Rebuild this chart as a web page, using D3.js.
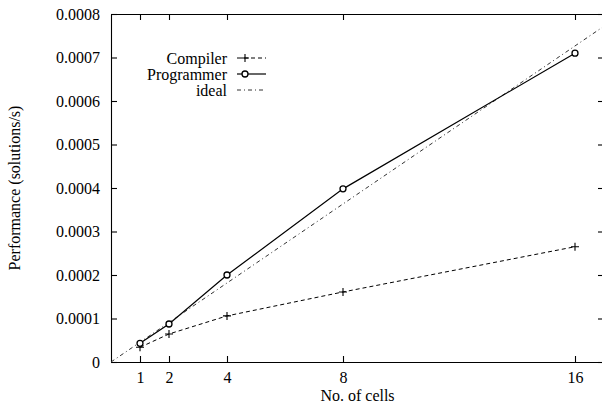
<!DOCTYPE html>
<html>
<head>
<meta charset="utf-8">
<script src="https://cdn.jsdelivr.net/npm/d3@7"></script>
<style>
  body { margin: 0; background: #fff; }
  svg { display: block; }
  text { font-family: "Liberation Serif", "DejaVu Serif", serif; fill: #000; }
</style>
</head>
<body>
<svg id="chart" width="602" height="404"></svg>
<script>
// chart data
const cells = [1, 2, 4, 8, 16];
const compilerPerf = [0.0000338, 0.0000644, 0.000106, 0.000161, 0.000265];
const programmerPerf = [0.000043, 0.0000874, 0.0002, 0.000398, 0.00071];
const idealCells = [0, 17];
const idealPerf = [0, 0.000772];
const xTicks = [1, 2, 4, 8, 16];
const yTicks = [0, 0.0001, 0.0002, 0.0003, 0.0004, 0.0005, 0.0006, 0.0007, 0.0008];
const seriesNames = ["Compiler", "Programmer", "ideal"];

const svg = d3.select("#chart");
const m = {left: 111, top: 14, right: 604, bottom: 362};
const fs = "16px";

const x = d3.scaleLinear().domain([0, 17]).range([m.left, m.right]);
const y = d3.scaleLinear().domain([0, 0.0008]).range([m.bottom, m.top]);

// axes, gnuplot style: ticks pointing inward on all four sides
const yFmt = function(d) { return d === 0 ? "0" : d.toFixed(4); };

const axB = svg.append("g").attr("transform", "translate(0," + m.bottom + ")")
    .call(d3.axisBottom(x).tickValues(xTicks).tickSizeInner(-6).tickSizeOuter(0).tickPadding(10));
const axT = svg.append("g").attr("transform", "translate(0," + m.top + ")")
    .call(d3.axisTop(x).tickValues(xTicks).tickSizeInner(-6).tickSizeOuter(0).tickFormat(""));
const axL = svg.append("g").attr("transform", "translate(" + m.left + ",0)")
    .call(d3.axisLeft(y).tickValues(yTicks).tickSizeInner(-6).tickSizeOuter(0).tickPadding(11).tickFormat(yFmt));
const axR = svg.append("g").attr("transform", "translate(" + m.right + ",0)")
    .call(d3.axisRight(y).tickValues(yTicks).tickSizeInner(-6).tickSizeOuter(0).tickFormat(""));

[axB, axT, axL, axR].forEach(function(a) {
    a.selectAll("path, line").attr("stroke", "#000").attr("stroke-width", 1.1);
    a.selectAll("text").style("font-size", fs).style("font-family", "'Liberation Serif', serif").attr("fill", "#000");
});

// axis titles
svg.append("text")
    .attr("x", (m.left + m.right) / 2).attr("y", 401)
    .attr("text-anchor", "middle").style("font-size", fs)
    .text("No. of cells");

svg.append("text")
    .attr("transform", "translate(20," + ((m.top + m.bottom) / 2) + ") rotate(-90)")
    .attr("text-anchor", "middle").style("font-size", fs)
    .text("Performance (solutions/s)");

// lines
const line = d3.line().x(function(d) { return x(d[0]); }).y(function(d) { return y(d[1]); });

const compilerData = d3.zip(cells, compilerPerf);
const programmerData = d3.zip(cells, programmerPerf);
const idealData = d3.zip(idealCells, idealPerf);

const plot = svg.append("g");

plot.append("path").datum(idealData)
    .attr("d", line).attr("fill", "none")
    .attr("stroke", "#333").attr("stroke-width", 1)
    .attr("stroke-dasharray", "4,3,1,3");

plot.append("path").datum(compilerData)
    .attr("d", line).attr("fill", "none")
    .attr("stroke", "#000").attr("stroke-width", 1)
    .attr("stroke-dasharray", "4,3");

plot.append("path").datum(programmerData)
    .attr("d", line).attr("fill", "none")
    .attr("stroke", "#000").attr("stroke-width", 1.2);

// markers
function plus(g, cx, cy) {
    g.append("path")
        .attr("d", "M" + (cx - 4) + "," + cy + "H" + (cx + 4) + "M" + cx + "," + (cy - 4) + "V" + (cy + 4))
        .attr("stroke", "#000").attr("stroke-width", 1.1);
}
function ring(g, cx, cy) {
    g.append("circle").attr("cx", cx).attr("cy", cy).attr("r", 3)
        .attr("fill", "#fff").attr("stroke", "#000").attr("stroke-width", 1.3);
}

compilerData.forEach(function(d) { plus(plot, x(d[0]), y(d[1])); });
programmerData.forEach(function(d) { ring(plot, x(d[0]), y(d[1])); });

// legend
const legY = [58, 74, 90];
const leg = svg.append("g");
seriesNames.forEach(function(name, i) {
    leg.append("text")
        .attr("x", 227).attr("y", legY[i]).attr("dy", "0.35em")
        .attr("text-anchor", "end").style("font-size", fs)
        .text(name);
});
leg.append("line").attr("x1", 237).attr("x2", 266).attr("y1", legY[0]).attr("y2", legY[0])
    .attr("stroke", "#000").attr("stroke-dasharray", "4,3");
plus(leg, 245, legY[0]);
leg.append("line").attr("x1", 237).attr("x2", 266).attr("y1", legY[1]).attr("y2", legY[1])
    .attr("stroke", "#000").attr("stroke-width", 1.2);
ring(leg, 245, legY[1]);
leg.append("line").attr("x1", 237).attr("x2", 266).attr("y1", legY[2]).attr("y2", legY[2])
    .attr("stroke", "#333").attr("stroke-dasharray", "4,3,1,3");
</script>
</body>
</html>
